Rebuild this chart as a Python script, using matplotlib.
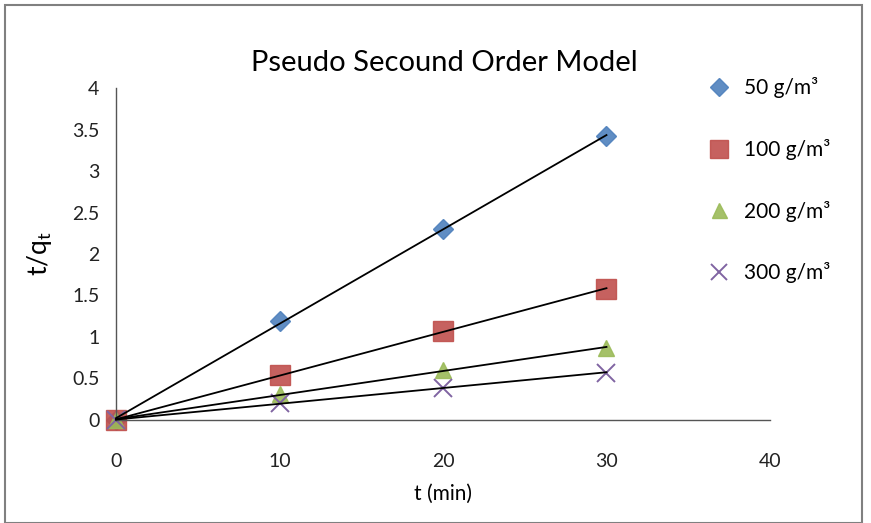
#!/usr/bin/env python3
"""Pseudo second order model plot: t/qt against time for four doses."""

import matplotlib

matplotlib.use("Agg")
import matplotlib.pyplot as plt
import numpy as np
from matplotlib.patches import Rectangle

plt.rcParams["font.family"] = ["Lato", "DejaVu Sans"]

time_min = [0, 10, 20, 30]
labels = ["50 g/m³", "100 g/m³", "200 g/m³", "300 g/m³"]
t_over_q_50 = [0.0, 1.19, 2.30, 3.42]
t_over_q_100 = [0.0, 0.54, 1.07, 1.58]
t_over_q_200 = [0.0, 0.31, 0.60, 0.87]
t_over_q_300 = [0.0, 0.20, 0.39, 0.57]

series = [t_over_q_50, t_over_q_100, t_over_q_200, t_over_q_300]
markers = ["D", "s", "^", "x"]
sizes = [10, 14, 12, 13]
colors = ["#4F81BD", "#C0504D", "#9BBB59", "#8064A2"]

fig = plt.figure(figsize=(8.71, 5.23), dpi=100)
ax = fig.add_axes([0.1332, 0.197, 0.7508, 0.6347])

# outer frame of the pasted chart
fig.patches.append(Rectangle((0.006, 0.0), 0.984, 0.99, transform=fig.transFigure,
                             fill=False, edgecolor="#808080", linewidth=1.5))

handles = []
x = np.array(time_min, dtype=float)
for vals, m, s, c, lab in zip(series, markers, sizes, colors, labels):
    y = np.array(vals)
    slope, icpt = np.polyfit(x, y, 1)
    ax.plot([0, 30], [icpt, icpt + slope * 30], color="black", linewidth=1.3, zorder=3,
            clip_on=False)
    if m == "x":
        h = ax.plot(x, y, linestyle="none", marker=m, markersize=s, markeredgewidth=1.4,
                    color=c, label=lab, zorder=2, clip_on=False)[0]
    else:
        h = ax.plot(x, y, linestyle="none", marker=m, markersize=s, color=c, alpha=0.9,
                    markeredgecolor=c, label=lab, zorder=2, clip_on=False)[0]
    handles.append(h)

ax.set_xlim(0, 40)
ax.set_ylim(0, 4)
ax.set_xticks([0, 10, 20, 30, 40])
ax.set_yticks([0, 0.5, 1, 1.5, 2, 2.5, 3, 3.5, 4])
ax.set_yticklabels(["0", "0.5", "1", "1.5", "2", "2.5", "3", "3.5", "4"])
ax.tick_params(length=0, labelsize=14, colors="#222222")
ax.tick_params(axis="x", pad=24)
ax.tick_params(axis="y", pad=12)
for side in ["top", "right"]:
    ax.spines[side].set_visible(False)
for side in ["left", "bottom"]:
    ax.spines[side].set_color("#555555")
    ax.spines[side].set_linewidth(1.0)

ax.set_xlabel("t (min)", fontsize=15, labelpad=10)
ax.set_ylabel("t/q$_\\mathregular{t}$", fontsize=19, labelpad=20)
ax.yaxis.set_label_coords(-0.095, 0.5)

fig.text(0.51, 0.88, "Pseudo Secound Order Model", ha="center", va="center", fontsize=21)

fig.legend(handles=handles, loc="upper left", bbox_to_anchor=(0.79, 0.888),
           frameon=False, fontsize=15, labelspacing=1.95, handletextpad=0.6,
           handlelength=1.2, markerscale=0.9)

fig.savefig("out.png", dpi=100)
